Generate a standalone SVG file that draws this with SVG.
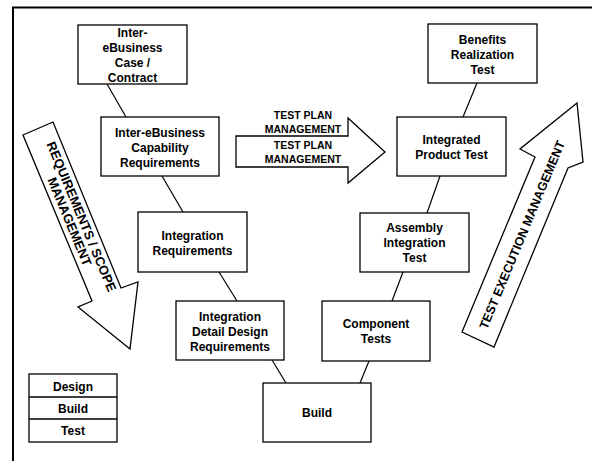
<svg xmlns="http://www.w3.org/2000/svg" width="592" height="461" viewBox="0 0 592 461">
<style>
.box{fill:#fff;stroke:#000;stroke-width:1.3}
.arr{fill:#fff;stroke:#000;stroke-width:1.3;stroke-linejoin:miter}
.t{font-family:"Liberation Sans",Arial,sans-serif;font-weight:bold;font-size:12px;text-anchor:middle;fill:#000}
.ta{font-family:"Liberation Sans",Arial,sans-serif;font-weight:bold;font-size:10.5px;text-anchor:middle;fill:#000}
.tb{font-family:"Liberation Sans",Arial,sans-serif;font-weight:bold;font-size:13px;text-anchor:middle;fill:#000}
.conn line{stroke:#000;stroke-width:1.2}
</style>
<rect width="592" height="461" fill="#fff"/>
<rect x="13" y="7.5" width="620" height="480" fill="none" stroke="#000" stroke-width="2"/>

<g id="connectors" class="conn">
<line x1="107" y1="84" x2="126" y2="117"/>
<line x1="162" y1="176" x2="183" y2="212"/>
<line x1="219" y1="272" x2="237" y2="301"/>
<line x1="272" y1="360" x2="286" y2="383"/>
<line x1="360" y1="383" x2="369" y2="361"/>
<line x1="392" y1="301" x2="403" y2="272"/>
<line x1="427" y1="213" x2="440" y2="176"/>
<line x1="463" y1="117" x2="477" y2="83"/>
</g>

<g id="case">
<rect class="box" x="78" y="25" width="109" height="59"/>
<text class="t" x="132.5" y="37.3">Inter-</text>
<text class="t" x="132.5" y="52.3">eBusiness</text>
<text class="t" x="132.5" y="67.3">Case /</text>
<text class="t" x="132.5" y="82">Contract</text>
</g>

<g id="capability">
<rect class="box" x="101" y="117" width="118" height="59"/>
<text class="t" x="160" y="137.3">Inter-eBusiness</text>
<text class="t" x="160" y="152.3">Capability</text>
<text class="t" x="160" y="167.3">Requirements</text>
</g>

<g id="integration-req">
<rect class="box" x="138" y="212" width="109" height="60"/>
<text class="t" x="192.5" y="240.3">Integration</text>
<text class="t" x="192.5" y="255.3">Requirements</text>
</g>

<g id="detail-design">
<rect class="box" x="176" y="301" width="108" height="59"/>
<text class="t" x="230" y="321.3">Integration</text>
<text class="t" x="230" y="336.3">Detail Design</text>
<text class="t" x="230" y="351.3">Requirements</text>
</g>

<g id="build">
<rect class="box" x="263" y="383" width="108" height="59"/>
<text class="t" x="317" y="417.3">Build</text>
</g>

<g id="component">
<rect class="box" x="322" y="301" width="108" height="60"/>
<text class="t" x="376" y="328">Component</text>
<text class="t" x="376" y="343">Tests</text>
</g>

<g id="assembly">
<rect class="box" x="360" y="213" width="109" height="59"/>
<text class="t" x="414.5" y="232.3">Assembly</text>
<text class="t" x="414.5" y="247.3">Integration</text>
<text class="t" x="414.5" y="262.3">Test</text>
</g>

<g id="integrated-product">
<rect class="box" x="397" y="117" width="109" height="59"/>
<text class="t" x="451.5" y="144.3">Integrated</text>
<text class="t" x="451.5" y="159.3">Product Test</text>
</g>

<g id="benefits">
<rect class="box" x="428" y="24" width="109" height="59"/>
<text class="t" x="482.5" y="43.8">Benefits</text>
<text class="t" x="482.5" y="58.8">Realization</text>
<text class="t" x="482.5" y="73.8">Test</text>
</g>

<g id="test-plan-arrow">
<polygon class="arr" points="236,136 348,136 348,118 385,152 348,183 348,167 236,167"/>
<text class="ta" x="303" y="119">TEST PLAN</text>
<text class="ta" x="303" y="133">MANAGEMENT</text>
<text class="ta" x="303" y="149">TEST PLAN</text>
<text class="ta" x="303" y="163">MANAGEMENT</text>
</g>

<g id="requirements-arrow">
<polygon class="arr" points="23,135 53,122 121,288 138,282 130,349 78,307 92,301"/>
<g transform="translate(75.7,219) rotate(67.35)">
<text class="tb" x="0" y="-1.8">REQUIREMENTS / SCOPE</text>
<text class="tb" x="0" y="11.2">MANAGEMENT</text>
</g>
</g>

<g id="test-execution-arrow">
<polygon class="arr" points="462,332 535,157 520,149 577,103 583,162 568,168 494,347"/>
<g transform="translate(521.9,234.8) rotate(-67.3)">
<text class="tb" style="font-size:12.5px" x="0" y="4.5">TEST EXECUTION MANAGEMENT</text>
</g>
</g>

<g id="legend">
<rect class="box" x="29" y="374" width="88" height="68"/>
<line x1="29" y1="397" x2="117" y2="397" stroke="#000" stroke-width="1.3"/>
<line x1="29" y1="419" x2="117" y2="419" stroke="#000" stroke-width="1.3"/>
<text class="t" x="73" y="391.3">Design</text>
<text class="t" x="73" y="413.3">Build</text>
<text class="t" x="73" y="435.3">Test</text>
</g>
</svg>
